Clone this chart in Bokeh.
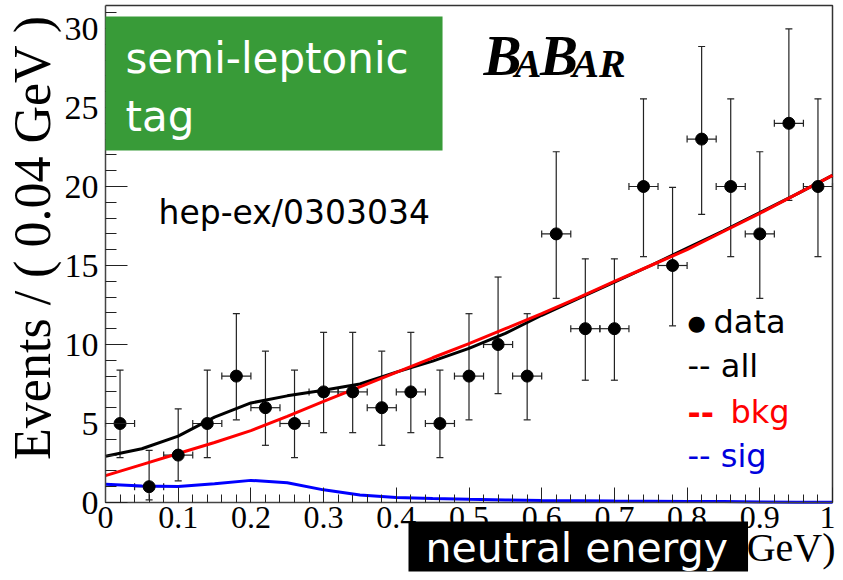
import math
from bokeh.plotting import figure
from bokeh.models import (Range1d, SingleIntervalTicker, CustomJSTickFormatter, Label,
                          BoxAnnotation, Whisker, TeeHead, ColumnDataSource)
from bokeh.embed import file_html
from bokeh.resources import INLINE

# ---- data ----
bin_centers = [0.02, 0.06, 0.10, 0.14, 0.18, 0.22, 0.26, 0.30, 0.34, 0.38, 0.42, 0.46, 0.50,
               0.54, 0.58, 0.62, 0.66, 0.70, 0.74, 0.78, 0.82, 0.86, 0.90, 0.94, 0.98]
counts = [5, 1, 3, 5, 8, 6, 5, 7, 7, 6, 7, 5, 8, 10, 8, 17, 11, 11, 20, 15, 23, 20, 17, 24, 20]
err_low = [2.16, 0.83, 1.63, 2.16, 2.77, 2.38, 2.16, 2.58, 2.58, 2.38, 2.58, 2.16, 2.77,
           3.11, 2.77, 4.08, 3.26, 3.26, 4.44, 3.82, 4.77, 4.44, 4.08, 4.88, 4.44]
err_high = [3.38, 2.30, 2.92, 3.38, 3.95, 3.58, 3.38, 3.77, 3.77, 3.58, 3.77, 3.38, 3.95,
            4.27, 3.95, 5.20, 4.42, 4.42, 5.55, 4.95, 5.86, 5.55, 5.20, 5.97, 5.55]
bin_half = [0.02] * 25

curve_x = [0.0, 0.05, 0.10, 0.15, 0.20, 0.25, 0.30, 0.35, 0.40, 0.45, 0.50,
           0.55, 0.60, 0.65, 0.70, 0.75, 0.80, 0.85, 0.90, 0.95, 1.0]
all_fit = [2.93, 3.40, 4.20, 5.40, 6.30, 6.75, 7.10, 7.50, 8.25, 8.95, 9.75,
           10.70, 11.85, 12.90, 13.95, 15.00, 16.10, 17.20, 18.35, 19.50, 20.70]
bkg_fit = [1.70, 2.40, 3.10, 3.80, 4.55, 5.45, 6.40, 7.32, 8.24, 9.16, 10.05,
           11.00, 11.95, 12.95, 14.00, 15.00, 16.00, 17.15, 18.30, 19.50, 20.70]
sig_fit = [1.16, 1.04, 1.01, 1.18, 1.40, 1.25, 0.80, 0.48, 0.32, 0.25, 0.20,
           0.16, 0.13, 0.11, 0.09, 0.08, 0.07, 0.06, 0.03, 0.02, 0.02]

x_axis_bounds = (0, 1)
y_axis_bounds = (0, 31.45)
x_ticks_interval = 0.1
y_ticks_interval = 5

# ---- figure: the frame fills the canvas, axes are drawn at fixed data locations ----
W, H = 835, 572
p = figure(width=W, height=H, x_range=Range1d(-105 / 727, (W - 105) / 727),
           y_range=Range1d(-(H - 502) / 15.8, 502 / 15.8),
           output_backend="svg", toolbar_location=None,
           min_border_left=0, min_border_right=0, min_border_top=0, min_border_bottom=0)
p.xgrid.visible = False
p.ygrid.visible = False
p.outline_line_color = None
p.background_fill_color = "white"
p.border_fill_color = "white"

p.xaxis.fixed_location = 0
p.yaxis.fixed_location = 0
p.xaxis.bounds = x_axis_bounds
p.yaxis.bounds = y_axis_bounds
p.xaxis.ticker = SingleIntervalTicker(interval=x_ticks_interval, num_minor_ticks=5)
p.yaxis.ticker = SingleIntervalTicker(interval=y_ticks_interval, num_minor_ticks=5)
p.xaxis.formatter = CustomJSTickFormatter(code="return tick.toFixed(1).replace(/\\.0$/, '');")
for ax in (p.xaxis, p.yaxis):
    ax.axis_line_color = "#444444"
    ax.axis_line_width = 1.5
    ax.major_tick_line_color = "#222222"
    ax.minor_tick_line_color = "#222222"
    ax.major_tick_out = 0
    ax.minor_tick_out = 0
    ax.major_label_text_font = "Liberation Serif"
    ax.major_label_text_color = "black"
p.xaxis.major_label_text_font_size = "32px"
p.yaxis.major_label_text_font_size = "34px"
p.xaxis.major_tick_in = 15
p.xaxis.minor_tick_in = 8
p.yaxis.major_tick_in = 22
p.yaxis.minor_tick_in = 11
p.xaxis.major_label_standoff = 4
p.yaxis.major_label_standoff = 7

# top and right edges of the plot box
p.line([x_axis_bounds[0], x_axis_bounds[1], x_axis_bounds[1]],
       [y_axis_bounds[1], y_axis_bounds[1], y_axis_bounds[0]],
       line_color="#333333", line_width=1.5)

src = ColumnDataSource(dict(
    x=bin_centers, y=counts,
    lo=[c - e for c, e in zip(counts, err_low)],
    hi=[c + e for c, e in zip(counts, err_high)],
    xl=[x - h for x, h in zip(bin_centers, bin_half)],
    xh=[x + h for x, h in zip(bin_centers, bin_half)],
))

ecol = "#222222"
vw = Whisker(base="x", lower="lo", upper="hi", source=src, dimension="height",
             line_color=ecol, line_width=1.2,
             upper_head=TeeHead(size=7, line_color=ecol, line_width=1.2),
             lower_head=TeeHead(size=7, line_color=ecol, line_width=1.2))
hw = Whisker(base="y", lower="xl", upper="xh", source=src, dimension="width",
             line_color=ecol, line_width=1.2,
             upper_head=TeeHead(size=7, line_color=ecol, line_width=1.2),
             lower_head=TeeHead(size=7, line_color=ecol, line_width=1.2))
p.add_layout(vw)
p.add_layout(hw)

p.line(curve_x, all_fit, line_color="black", line_width=3)
p.line(curve_x, bkg_fit, line_color="red", line_width=3)
p.line(curve_x, sig_fit, line_color="blue", line_width=3)
p.scatter("x", "y", source=src, size=12, color="black")

# ---- annotations ----
def L(**kw):
    kw.setdefault("text_baseline", "middle")
    lab = Label(**kw)
    p.add_layout(lab)
    return lab

p.add_layout(BoxAnnotation(left=0, right=0.4636, bottom=22.28, top=30.76,
                           fill_color="#389b38", fill_alpha=1, line_color=None))
L(x=0.0275, y=28.07, text="semi-leptonic", text_font="DejaVu Sans", text_font_size="42px",
  text_color="white")
L(x=0.0275, y=24.46, text="tag", text_font="DejaVu Sans", text_font_size="42px",
  text_color="white")

L(x=0.0729, y=18.38, text="hep-ex/0303034", text_font="DejaVu Sans", text_font_size="33px",
  text_color="black")

# BaBar logo
for xx, yy, t, fs in [(0.5200, 28.28, "B", "57px"), (0.5630, 27.80, "A", "40px"),
                      (0.5975, 28.28, "B", "57px"), (0.6420, 27.80, "AR", "40px")]:
    L(x=xx, y=yy, text=t, text_font="Liberation Serif", text_font_style="bold italic",
      text_font_size=fs, text_color="black")

# legend
L(x=0.8006, y=11.33, text="\u25cf", text_font="DejaVu Sans", text_font_size="21px",
  text_color="black")
L(x=0.8363, y=11.40, text="data", text_font="DejaVu Sans", text_font_size="32px",
  text_color="black")
L(x=0.8006, y=8.61, text="-- all", text_font="DejaVu Sans", text_font_size="32px",
  text_color="black")
L(x=0.8006, y=5.70, text="--", text_font="DejaVu Sans", text_font_size="32px", text_font_style="bold",
  text_color="red")
L(x=0.8597, y=5.70, text="bkg", text_font="DejaVu Sans", text_font_size="32px",
  text_color="red")
L(x=0.8006, y=2.92, text="-- sig", text_font="DejaVu Sans", text_font_size="32px",
  text_color="#0000dd")

# y axis title
L(x=-0.1004, y=(502 - 237) / 15.8, text="Events / ( 0.04 GeV )", angle=math.pi / 2,
  text_font="Liberation Serif", text_font_size="52px", text_color="black",
  text_align="center")

# x axis title (partly covered by the black tag)
L(x=(W - 105) / 727, y=-2.82, text="(GeV)", text_font="Liberation Serif", text_font_size="40px",
  text_color="black", text_align="right")
L(x=(408 - 105) / 727, y=(502 - 546) / 15.8, text="neutral energy", text_font="DejaVu Sans",
  text_font_size="41px", text_color="white", background_fill_color="black",
  background_fill_alpha=1, padding=(17, 20, 2, 0))

open("out.html", "w").write(file_html(p, INLINE))
